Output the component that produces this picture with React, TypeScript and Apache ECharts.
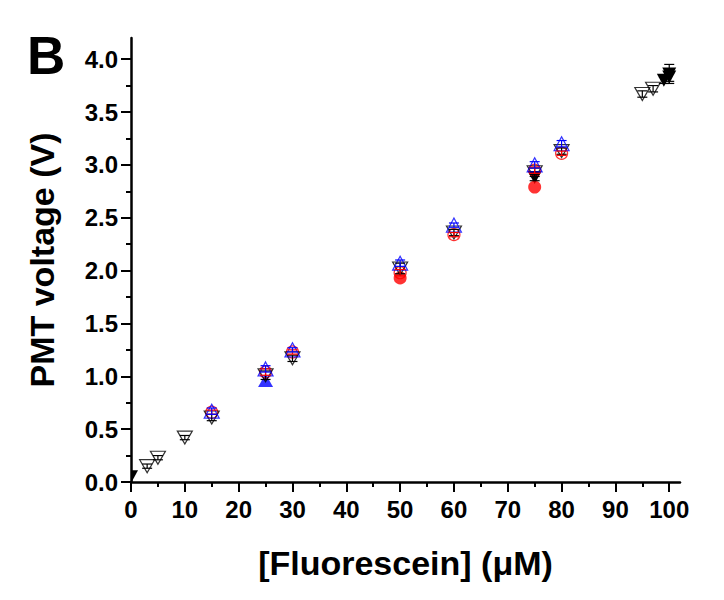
import React, { useEffect, useRef } from "react";
import * as echarts from "echarts";

// ---- data ----
const yTicks = [0, 0.5, 1, 1.5, 2, 2.5, 3, 3.5, 4];
const yMinorTicks = [0.25, 0.75, 1.25, 1.75, 2.25, 2.75, 3.25, 3.75];
const xTicks = [0, 10, 20, 30, 40, 50, 60, 70, 80, 90, 100];
const xMinorTicks = [5, 15, 25, 35, 45, 55, 65, 75, 85, 95];

// black open inverted triangles
const blackOpenX = [3, 5, 10, 15, 25, 30, 50, 60, 75, 80, 95, 97];
const blackOpenY = [0.15, 0.23, 0.42, 0.61, 1.01, 1.17, 2.02, 2.36, 2.93, 3.13, 3.67, 3.72];
const blackOpenErr = [0.02, 0.02, 0.02, 0.03, 0.04, 0.03, 0.05, 0.03, 0.04, 0.03, 0.03, 0.03];

// black filled inverted triangles
const blackFillX = [0, 75, 99, 100, 100];
const blackFillY = [0.05, 2.88, 3.8, 3.83, 3.86];
const blackFillErr = [0, 0.03, 0.03, 0.04, 0.09];

// red open circles
const redOpenX = [15, 25, 30, 50, 60, 75, 80];
const redOpenY = [0.66, 1.04, 1.23, 1.98, 2.34, 2.95, 3.11];
const redOpenErr = [0.02, 0.03, 0.02, 0.03, 0.02, 0.03, 0.02];

// red filled circles
const redFillX = [50, 75];
const redFillY = [1.93, 2.79];

// blue open triangles
const blueOpenX = [15, 25, 30, 50, 60, 75, 80];
const blueOpenY = [0.67, 1.07, 1.25, 2.07, 2.43, 3.0, 3.2];
const blueOpenErr = [0.03, 0.03, 0.02, 0.03, 0.02, 0.03, 0.03];

// blue filled triangles
const blueFillX = [25];
const blueFillY = [0.96];

const FONT = '"Liberation Sans", Arial, sans-serif';

const zip = (xs: number[], ys: number[]) => xs.map((x, i) => [x, ys[i]]);
const errData = (xs: number[], ys: number[], es: number[]) =>
  xs
    .map((x, i) => [x, ys[i] - es[i], ys[i] + es[i]])
    .filter((d) => d[2] - d[1] > 0);

const errSeries = (data: number[][], color: string) => ({
  type: "custom",
  silent: true,
  z: 5,
  data,
  renderItem: (_p: any, api: any) => {
    const x = api.value(0);
    const lo = api.coord([x, api.value(1)]);
    const hi = api.coord([x, api.value(2)]);
    const w = 5;
    const style = { stroke: color, lineWidth: 1.2 };
    return {
      type: "group",
      children: [
        { type: "line", shape: { x1: lo[0], y1: lo[1], x2: hi[0], y2: hi[1] }, style },
        { type: "line", shape: { x1: lo[0] - w, y1: lo[1], x2: lo[0] + w, y2: lo[1] }, style },
        { type: "line", shape: { x1: hi[0] - w, y1: hi[1], x2: hi[0] + w, y2: hi[1] }, style },
      ],
    };
  },
});

export default function App() {
  const ref = useRef<HTMLDivElement>(null);
  useEffect(() => {
    if (!ref.current) return;
    const chart = echarts.init(ref.current, null, { renderer: "svg" });
    const axisText = { color: "#000", fontFamily: FONT, fontWeight: "bold", fontSize: 24 };
    chart.setOption({
      animation: false,
      backgroundColor: "#fff",
      grid: { left: 131, right: 44, top: 38, bottom: 118 },
      graphic: [
        {
          type: "text",
          left: 27,
          top: 29,
          style: { text: "B", font: `bold 53px ${FONT}`, fill: "#000" },
        },
      ],
      xAxis: [
        {
          type: "value",
          min: 0,
          max: 102,
          position: "bottom",
          axisLine: { onZero: false, lineStyle: { color: "#000", width: 2.5 } },
          axisTick: { customValues: xTicks, length: 10, lineStyle: { color: "#000", width: 2 } },
          axisLabel: { ...axisText, customValues: xTicks, margin: 15 },
          splitLine: { show: false },
          name: "[Fluorescein] (\u03bcM)",
          nameLocation: "middle",
          nameGap: 64,
          nameTextStyle: { color: "#000", fontFamily: FONT, fontWeight: "bold", fontSize: 34 },
        },
        {
          type: "value",
          min: 0,
          max: 102,
          position: "bottom",
          axisLine: { show: false, onZero: false },
          axisTick: { customValues: xMinorTicks, length: 5, lineStyle: { color: "#000", width: 2 } },
          axisLabel: { show: false },
          splitLine: { show: false },
        },
      ],
      yAxis: [
        {
          type: "value",
          min: 0,
          max: 4.2,
          position: "left",
          axisLine: { onZero: false, lineStyle: { color: "#000", width: 2.5 } },
          axisTick: { customValues: yTicks, length: 10, lineStyle: { color: "#000", width: 2 } },
          axisLabel: {
            ...axisText,
            customValues: yTicks,
            margin: 13,
            formatter: (v: number) => v.toFixed(1),
          },
          splitLine: { show: false },
          name: "PMT voltage (V)",
          nameLocation: "middle",
          nameGap: 72,
          nameTextStyle: { color: "#000", fontFamily: FONT, fontWeight: "bold", fontSize: 34 },
        },
        {
          type: "value",
          min: 0,
          max: 4.2,
          position: "left",
          axisLine: { show: false, onZero: false },
          axisTick: { customValues: yMinorTicks, length: 5, lineStyle: { color: "#000", width: 2 } },
          axisLabel: { show: false },
          splitLine: { show: false },
        },
      ],
      series: [
        {
          type: "scatter",
          data: zip(redFillX, redFillY),
          symbol: "circle",
          symbolSize: 13,
          itemStyle: { color: "#ff0000" },
          z: 2,
        },
        {
          type: "scatter",
          data: zip(blueFillX, blueFillY),
          symbol: "triangle",
          symbolSize: [15, 13],
          itemStyle: { color: "#0000ff" },
          z: 2,
        },
        {
          type: "custom",
          silent: true,
          clip: true,
          z: 2,
          data: zip(blackFillX, blackFillY),
          renderItem: (_p: any, api: any) => {
            const c = api.coord([api.value(0), api.value(1)]);
            return {
              type: "polygon",
              shape: {
                points: [
                  [c[0] - 7, c[1] - 6.5],
                  [c[0] + 7, c[1] - 6.5],
                  [c[0], c[1] + 6.5],
                ],
              },
              style: { fill: "#000" },
            };
          },
        },
        {
          type: "scatter",
          data: zip(redOpenX, redOpenY),
          symbol: "circle",
          symbolSize: 12,
          itemStyle: { color: "transparent", borderColor: "#ff0000", borderWidth: 1.2 },
          z: 3,
        },
        {
          type: "scatter",
          data: zip(blackOpenX, blackOpenY),
          symbol: "triangle",
          symbolRotate: 180,
          symbolSize: [15, 13],
          itemStyle: { color: "transparent", borderColor: "#000", borderWidth: 1.2 },
          z: 3,
        },
        {
          type: "scatter",
          data: zip(blueOpenX, blueOpenY),
          symbol: "triangle",
          symbolSize: [15, 14],
          itemStyle: { color: "transparent", borderColor: "#0000ff", borderWidth: 1.2 },
          z: 4,
        },
        errSeries(errData(blackOpenX, blackOpenY, blackOpenErr), "#000"),
        errSeries(errData(blackFillX, blackFillY, blackFillErr), "#000"),
        errSeries(errData(redOpenX, redOpenY, redOpenErr), "#ff0000"),
        errSeries(errData(blueOpenX, blueOpenY, blueOpenErr), "#0000ff"),
      ],
    });
    return () => chart.dispose();
  }, []);
  return (
    <div
      ref={ref}
      style={{ position: "absolute", left: 0, top: 0, width: 724, height: 600 }}
    />
  );
}
